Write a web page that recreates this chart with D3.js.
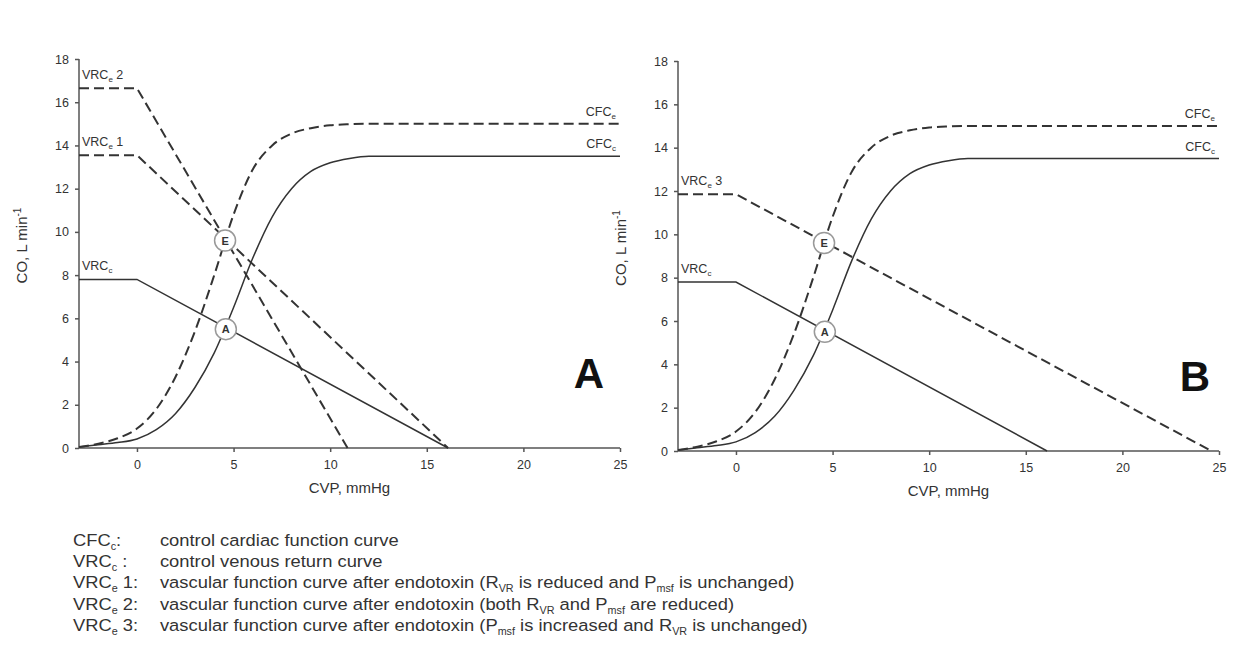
<!DOCTYPE html>
<html>
<head>
<meta charset="utf-8">
<script src="https://cdn.jsdelivr.net/npm/d3@7"></script>
<style>
  body { margin: 0; background: #fff; }
  svg text { font-family: Arial, "Liberation Sans", sans-serif; fill: #333; }
</style>
</head>
<body>
<svg id="chart" width="1243" height="664"></svg>
<script>
// curve data (CVP mmHg, CO L/min)
const cvpGrid = [-3, -2, -1, 0, 1, 2, 3, 4, 5, 6, 7, 8, 9, 10, 11, 12, 14, 25];
const cfcControl = [0.05, 0.15, 0.25, 0.42, 0.85, 1.6, 2.8, 4.4, 6.5, 8.8, 10.7, 12.0, 12.8, 13.2, 13.4, 13.5, 13.5, 13.5];
const cfcEndo = [0.05, 0.2, 0.45, 0.9, 1.8, 3.3, 5.4, 8.0, 10.8, 12.9, 14.0, 14.55, 14.8, 14.93, 14.98, 15.0, 15.0, 15.0];

// venous return curves: [CVP, CO] break points
const vrcControl = [[-3, 7.8], [0, 7.8], [16.1, 0]];
const vrcE1 = [[-3, 13.55], [0, 13.55], [16.1, 0]];
const vrcE2 = [[-3, 16.65], [0, 16.65], [10.9, 0]];
const vrcE3 = [[-3, 11.85], [0, 11.85], [24.6, 0]];

const pointA = [4.6, 5.5];
const pointE = [4.56, 9.6];

const xTicks = [0, 5, 10, 15, 20, 25];
const yTicks = [0, 2, 4, 6, 8, 10, 12, 14, 16, 18];

const legendRows = [
  { key: ["CFC", "c", ":"], text: [["control cardiac function curve"]] },
  { key: ["VRC", "c", " :"], text: [["control venous return curve"]] },
  { key: ["VRC", "e", " 1:"], text: [["vascular function curve after endotoxin (R"], ["VR", "sub"], [" is reduced and P"], ["msf", "sub"], [" is unchanged)"]] },
  { key: ["VRC", "e", " 2:"], text: [["vascular function curve after endotoxin (both R"], ["VR", "sub"], [" and P"], ["msf", "sub"], [" are reduced)"]] },
  { key: ["VRC", "e", " 3:"], text: [["vascular function curve after endotoxin (P"], ["msf", "sub"], [" is increased and R"], ["VR", "sub"], [" is unchanged)"]] }
];

const svg = d3.select("#chart");
const ink = "#333";

function subLabel(g, x, y, main, sub, tail, anchor) {
  const t = g.append("text").attr("x", x).attr("y", y)
    .attr("font-size", 12.5).attr("text-anchor", anchor || "start");
  t.append("tspan").text(main);
  t.append("tspan").attr("font-size", 8).attr("dy", 3).text(sub);
  if (tail) t.append("tspan").attr("dy", -3).text(tail);
  return t;
}

function drawPanel(cfg) {
  const x = d3.scaleLinear().domain([-3, 25]).range([cfg.left, cfg.right]);
  const y = d3.scaleLinear().domain([0, 18]).range([cfg.bottom, cfg.top]);
  const g = svg.append("g");

  g.append("g").attr("transform", `translate(0,${cfg.bottom})`)
    .call(d3.axisBottom(x).tickValues(xTicks).tickSize(4).tickPadding(8))
    .call(a => a.select(".domain").attr("d", `M${cfg.left},0H${cfg.right}`));
  g.append("g").attr("transform", `translate(${cfg.left},0)`)
    .call(d3.axisLeft(y).tickValues(yTicks).tickSize(4).tickPadding(6))
    .call(a => a.select(".domain").attr("d", `M0,${cfg.bottom}V${cfg.top}`));
  g.selectAll(".tick text").attr("font-size", 12.5).attr("fill", "#444");
  g.selectAll(".domain, .tick line").attr("stroke", "#555").attr("stroke-width", 1.5);

  g.append("text")
    .attr("transform", `translate(${cfg.left - 52},${(cfg.top + cfg.bottom) / 2 - 8}) rotate(-90)`)
    .attr("text-anchor", "middle").attr("font-size", 15)
    .call(t => { t.append("tspan").text("CO, L min"); t.append("tspan").attr("font-size", 10).attr("dy", -6).text("-1"); });
  g.append("text").attr("x", (cfg.left + cfg.right) / 2).attr("y", cfg.bottom + 45)
    .attr("text-anchor", "middle").attr("font-size", 15).text("CVP, mmHg");

  const smooth = d3.line().x(d => x(d[0])).y(d => y(d[1])).curve(d3.curveMonotoneX);
  const straight = d3.line().x(d => x(d[0])).y(d => y(d[1]));

  const cfcC = cvpGrid.map((v, i) => [v, cfcControl[i]]);
  const cfcE = cvpGrid.map((v, i) => [v, cfcEndo[i]]);

  const lines = [
    { d: smooth(cfcC), dash: null },
    { d: smooth(cfcE), dash: "10,5" },
    { d: straight(vrcControl), dash: null }
  ];
  cfg.vrcs.forEach(v => lines.push({ d: straight(v), dash: "10,5" }));

  g.selectAll("path.curve").data(lines).join("path")
    .attr("class", "curve")
    .attr("d", d => d.d)
    .attr("fill", "none")
    .attr("stroke", ink)
    .attr("stroke-width", d => d.dash ? 2 : 1.5)
    .attr("stroke-dasharray", d => d.dash);

  // intersection markers
  [[pointA, "A"], [pointE, "E"]].forEach(([p, lbl]) => {
    g.append("circle").attr("cx", x(p[0])).attr("cy", y(p[1])).attr("r", 10.5)
      .attr("fill", "#fff").attr("stroke", "#999").attr("stroke-width", 1.5);
    g.append("text").attr("x", x(p[0])).attr("y", y(p[1]) + 4)
      .attr("text-anchor", "middle").attr("font-size", 11).attr("font-weight", "bold").text(lbl);
  });

  subLabel(g, cfg.right - 4, y(15) - 8, "CFC", "e", null, "end");
  subLabel(g, cfg.right - 4, y(13.5) - 8, "CFC", "c", null, "end");
  subLabel(g, cfg.left + 3, y(7.8) - 9, "VRC", "c");
  cfg.vrcLabels.forEach(l => subLabel(g, cfg.left + 3, y(l.v) - 9, "VRC", "e", " " + l.n));

  g.append("text").attr("x", cfg.bigX).attr("y", cfg.bottom - 60)
    .attr("text-anchor", "middle").attr("font-size", 42).attr("font-weight", "bold")
    .style("fill", "#111").text(cfg.letter);
}

drawPanel({ left: 79, right: 620, top: 59, bottom: 448, letter: "A", bigX: 589,
  vrcs: [vrcE1, vrcE2], vrcLabels: [{ v: 16.65, n: "2" }, { v: 13.55, n: "1" }] });
drawPanel({ left: 678, right: 1219, top: 61, bottom: 451, letter: "B", bigX: 1195,
  vrcs: [vrcE3], vrcLabels: [{ v: 11.85, n: "3" }] });

// legend (slightly stretched horizontally like the source figure)
const leg = svg.append("g").attr("transform", "translate(73,0) scale(1.08,1) translate(-73,0)");
legendRows.forEach((r, i) => {
  const yy = 546 + i * 21.2;
  const k = leg.append("text").attr("x", 73).attr("y", yy).attr("font-size", 17);
  k.append("tspan").text(r.key[0]);
  k.append("tspan").attr("font-size", 10).attr("dy", 4).text(r.key[1]);
  k.append("tspan").attr("dy", -4).text(r.key[2]);
  const t = leg.append("text").attr("x", 153.5).attr("y", yy).attr("font-size", 17);
  r.text.forEach(seg => {
    if (seg[1] === "sub") {
      t.append("tspan").attr("font-size", 10).attr("dy", 4).text(seg[0]);
    } else {
      const s = t.append("tspan").text(seg[0]);
      if (t.selectAll("tspan").size() > 1) s.attr("dy", -4);
    }
  });
});
</script>
</body>
</html>
